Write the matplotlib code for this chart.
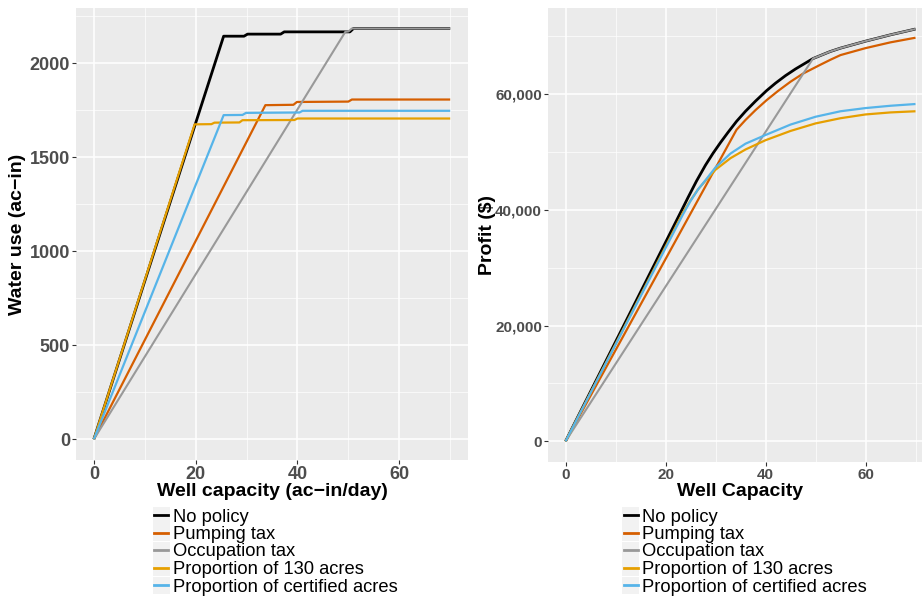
import numpy as np
import matplotlib
matplotlib.use('Agg')
import matplotlib.pyplot as plt
from matplotlib.patches import Rectangle
from matplotlib.lines import Line2D
from matplotlib.ticker import FuncFormatter, MultipleLocator

plt.rcParams['font.family'] = ['Liberation Sans', 'DejaVu Sans']

labels = ['No policy', 'Pumping tax', 'Occupation tax',
          'Proportion of 130 acres', 'Proportion of certified acres']
colors = ['#000000', '#D55E00', '#999999', '#E69F00', '#56B4E9']
widths = [2.0, 1.6, 1.5, 1.6, 1.6]

# water use (ac-in) against well capacity (ac-in/day)
water_x = {
    'No policy':      [0, 25.5, 29.5, 30.2, 36.7, 37.4, 50.3, 51.0, 70],
    'Pumping tax':    [0, 33.7, 39.2, 39.9, 50.0, 50.7, 70],
    'Occupation tax': [0, 49.4, 50.0, 50.7, 70],
    'Proportion of 130 acres':       [0, 19.8, 23.1, 23.7, 28.6, 29.2, 39.4, 40.0, 70],
    'Proportion of certified acres': [0, 25.5, 29.2, 29.9, 40.4, 41.0, 70],
}
water_y = {
    'No policy':      [0, 2145, 2145, 2156, 2156, 2168, 2168, 2186, 2186],
    'Pumping tax':    [0, 1778, 1780, 1795, 1797, 1808, 1808],
    'Occupation tax': [0, 2168, 2170, 2186, 2186],
    'Proportion of 130 acres':       [0, 1676, 1677, 1685, 1686, 1698, 1699, 1707, 1707],
    'Proportion of certified acres': [0, 1725, 1726, 1737, 1739, 1748, 1748],
}

# profit ($) against well capacity
profit_x = {
    'No policy':      [0, 23, 24.5, 26.2, 28, 29.5, 31, 32.5, 34.2, 36, 38, 40.2,
                       42, 44, 46, 49.5, 52.9, 55, 60, 65, 70],
    'Pumping tax':    [0, 34.2, 36, 38, 40.2, 42.5, 45, 47.5, 50.9, 53, 55, 60, 65, 70],
    'Occupation tax': [0, 49.5, 52.9, 55, 60, 65, 70],
    'Proportion of 130 acres':       [0, 23.5, 25, 26.5, 28, 30, 33, 36, 40, 45, 50, 55, 60, 65, 70],
    'Proportion of certified acres': [0, 23.5, 25, 26.5, 28, 30, 33, 36, 40, 45, 50, 55, 60, 65, 70],
}
profit_y = {
    'No policy':      [0, 39500, 42100, 44950, 47700, 49740, 51600, 53350, 55250, 57000,
                       58750, 60550, 61850, 63150, 64300, 66100, 67300, 67900, 69100,
                       70200, 71200],
    'Pumping tax':    [0, 53800, 55500, 57200, 58900, 60500, 62100, 63500, 65000,
                       65900, 66700, 67900, 68900, 69700],
    'Occupation tax': [0, 66100, 67300, 67900, 69100, 70200, 71200],
    'Proportion of 130 acres':       [0, 39500, 41600, 43500, 45000, 46900, 48900, 50400,
                                      52000, 53600, 54900, 55800, 56450, 56800, 57000],
    'Proportion of certified acres': [0, 39200, 41500, 43500, 45100, 47300, 49700, 51400,
                                      52900, 54700, 56050, 57000, 57550, 57950, 58250],
}

W, H = 922, 599
fig = plt.figure(figsize=(W / 100, H / 100), dpi=100, facecolor='w')


def px_axes(x0, x1, y0, y1):
    return fig.add_axes([x0 / W, 1 - y1 / H, (x1 - x0) / W, (y1 - y0) / H])


def style(ax, fs):
    ax.set_facecolor('#EBEBEB')
    for s in ax.spines.values():
        s.set_visible(False)
    ax.grid(which='major', color='white', linewidth=1.1)
    ax.grid(which='minor', color='white', linewidth=0.5)
    ax.set_axisbelow(True)
    ax.tick_params(which='major', length=2.8, width=0.8, color='#333333',
                   labelsize=fs, labelcolor='#4D4D4D', pad=1.5)
    ax.tick_params(which='minor', length=0)
    for lab in ax.get_xticklabels() + ax.get_yticklabels():
        lab.set_fontweight('bold')


def draw_legend(x0):
    for i, (lab, c, lw) in enumerate(zip(labels, colors, widths)):
        yc = 515 + 17.5 * i
        fig.add_artist(Rectangle((x0 / W, 1 - (yc + 8.5) / H), 17 / W, 17 / H,
                                 transform=fig.transFigure, facecolor='#F2F2F2',
                                 edgecolor='none'))
        fig.add_artist(Line2D([(x0 + 1.5) / W, (x0 + 15.5) / W], [1 - yc / H] * 2,
                              transform=fig.transFigure, color=c, lw=2.0))
        fig.text((x0 + 20) / W, 1 - yc / H, lab, fontsize=13.2, va='center_baseline',
                 ha='left', color='black')


# left panel: water use
ax1 = px_axes(76, 468, 8, 460)
for lab, c, lw in zip(labels, colors, widths):
    ax1.plot(water_x[lab], water_y[lab], color=c, lw=lw, solid_capstyle='butt')
ax1.set_xlim(-3.5, 73.5)
ax1.set_ylim(-110, 2295)
ax1.xaxis.set_major_locator(MultipleLocator(20))
ax1.xaxis.set_minor_locator(MultipleLocator(10))
ax1.yaxis.set_major_locator(MultipleLocator(500))
ax1.yaxis.set_minor_locator(MultipleLocator(250))
style(ax1, 13)
ax1.set_xlabel('Well capacity (ac\u2212in/day)', fontsize=14, fontweight='bold')
ax1.set_ylabel('Water use (ac\u2212in)', fontsize=14, fontweight='bold')
ax1.xaxis.set_label_coords(0.5, -0.050)
ax1.yaxis.set_label_coords(-0.128, 0.5)

# right panel: profit
ax2 = px_axes(548, 933, 8, 462)
for lab, c, lw in zip(labels, colors, widths):
    ax2.plot(profit_x[lab], profit_y[lab], color=c, lw=lw, solid_capstyle='butt')
ax2.set_xlim(-3.5, 73.5)
ax2.set_ylim(-3560, 74830)
ax2.xaxis.set_major_locator(MultipleLocator(20))
ax2.xaxis.set_minor_locator(MultipleLocator(10))
ax2.yaxis.set_major_locator(MultipleLocator(20000))
ax2.yaxis.set_minor_locator(MultipleLocator(10000))
ax2.yaxis.set_major_formatter(FuncFormatter(lambda v, p: f'{v:,.0f}'))
style(ax2, 11)
ax2.set_xlabel('Well Capacity', fontsize=14, fontweight='bold')
ax2.set_ylabel('Profit ($)', fontsize=14, fontweight='bold')
ax2.xaxis.set_label_coords(0.5, -0.046)
ax2.yaxis.set_label_coords(-0.135, 0.5)

draw_legend(152.5)
draw_legend(622)

fig.savefig('out.png', dpi=100)
